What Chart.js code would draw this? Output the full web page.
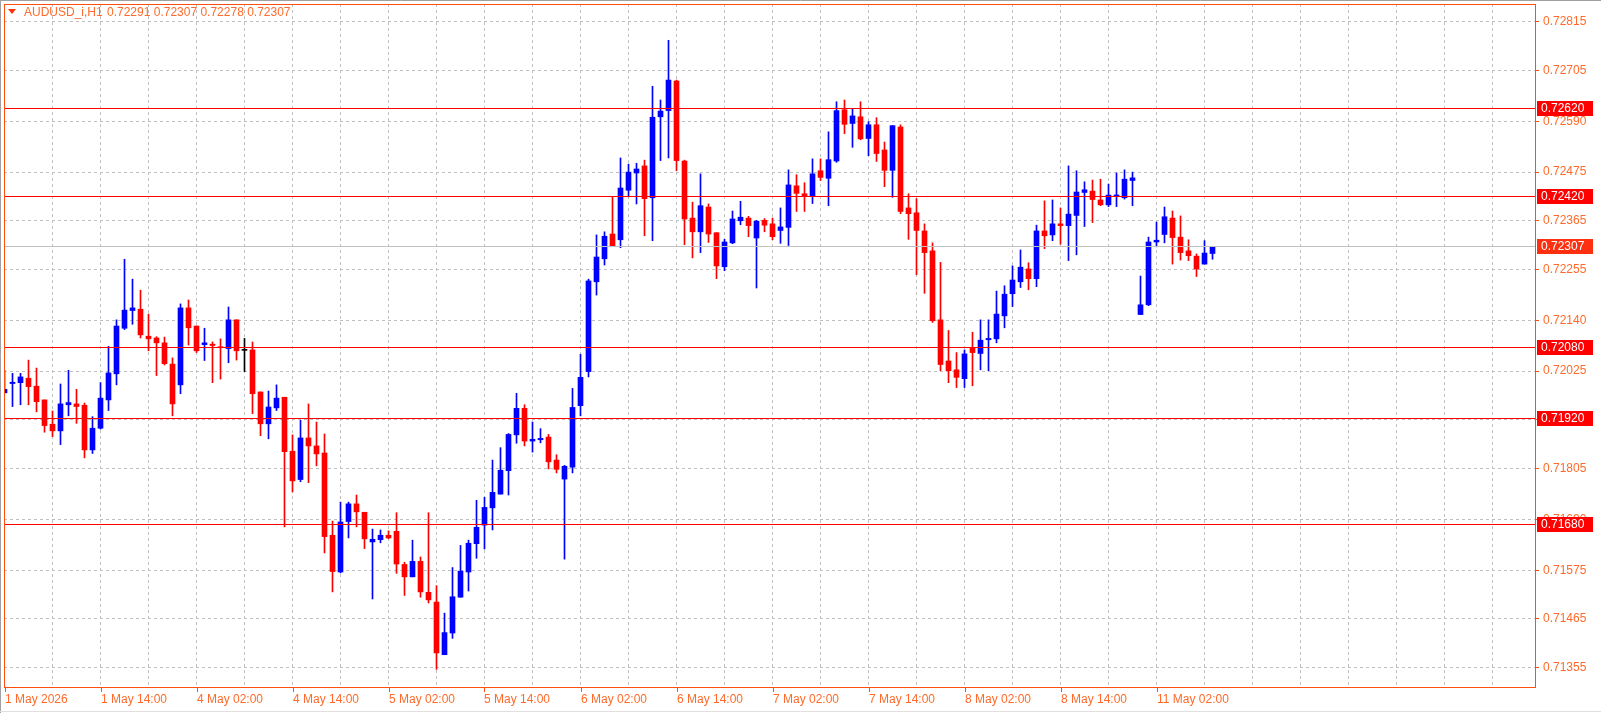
<!DOCTYPE html>
<html>
<head>
<meta charset="utf-8">
<script src="https://cdn.jsdelivr.net/npm/chart.js@4/dist/chart.umd.min.js"></script>
<style>
  html, body { margin: 0; padding: 0; background: #fff; }
  canvas { display: block; }
</style>
</head>
<body>
<canvas id="c" width="1601" height="713"></canvas>
<script>
// AUDUSD_i H1, one candle per hour starting 1 May 02:00
const opens = [
  0.71976,0.71997,0.71999,0.72009,0.71991,0.71960,0.71905,0.71890,0.71949,0.71951,
  0.71948,0.71847,0.71896,0.71960,0.72019,0.72122,0.72162,0.72165,0.72104,0.72100,
  0.72089,0.72041,0.71994,0.72168,0.72127,0.72085,0.72086,0.72080,0.72076,0.72141,
  0.72072,0.72073,0.71978,0.71906,0.71942,0.71966,0.71844,0.71780,0.71874,0.71856,
  0.71840,0.71654,0.71571,0.71685,0.71725,0.71706,0.71639,0.71644,0.71654,0.71663,
  0.71588,0.71560,0.71595,0.71525,0.71503,0.71384,0.71433,0.71514,0.71571,0.71635,
  0.71677,0.71716,0.71747,0.71800,0.71881,0.71941,0.71867,0.71870,0.71876,0.71824,
  0.71781,0.71808,0.71947,0.72024,0.72227,0.72279,0.72335,0.72322,0.72434,0.72473,
  0.72489,0.72417,0.72600,0.72614,0.72681,0.72500,0.72371,0.72340,0.72396,0.72338,
  0.72261,0.72315,0.72365,0.72371,0.72326,0.72366,0.72358,0.72343,0.72350,0.72444,
  0.72426,0.72420,0.72478,0.72461,0.72500,0.72616,0.72585,0.72600,0.72551,0.72582,
  0.72525,0.72479,0.72577,0.72394,0.72383,0.72342,0.72297,0.72141,0.72048,0.72028,
  0.72008,0.72077,0.72065,0.72096,0.72098,0.72150,0.72200,0.72227,0.72256,0.72234,
  0.72342,0.72333,0.72358,0.72354,0.72377,0.72429,0.72432,0.72412,0.72401,0.72421,
  0.72417,0.72456,0.72153,0.72175,0.72317,0.72334,0.72371,0.72328,0.72297,0.72285,
  0.72267,0.72291
];
const highs = [
  0.72027,0.72020,0.72020,0.72050,0.72032,0.71960,0.71935,0.71996,0.72027,0.71984,
  0.71953,0.71922,0.71999,0.72081,0.72141,0.72278,0.72233,0.72208,0.72154,0.72103,
  0.72102,0.72055,0.72177,0.72186,0.72127,0.72122,0.72091,0.72098,0.72170,0.72141,
  0.72099,0.72091,0.71978,0.71980,0.71994,0.71966,0.71881,0.71914,0.71951,0.71910,
  0.71883,0.71686,0.71729,0.71729,0.71745,0.71706,0.71668,0.71666,0.71664,0.71705,
  0.71593,0.71643,0.71605,0.71705,0.71540,0.71478,0.71581,0.71631,0.71643,0.71733,
  0.71740,0.71824,0.71852,0.71884,0.71975,0.71949,0.71910,0.71895,0.71882,0.71836,
  0.71812,0.71986,0.72063,0.72233,0.72333,0.72340,0.72419,0.72507,0.72493,0.72495,
  0.72502,0.72669,0.72638,0.72773,0.72683,0.72502,0.72407,0.72471,0.72403,0.72338,
  0.72323,0.72387,0.72409,0.72375,0.72366,0.72370,0.72371,0.72394,0.72480,0.72469,
  0.72451,0.72505,0.72505,0.72566,0.72634,0.72638,0.72618,0.72634,0.72589,0.72598,
  0.72543,0.72580,0.72582,0.72426,0.72415,0.72358,0.72315,0.72271,0.72117,0.72067,
  0.72073,0.72113,0.72141,0.72141,0.72206,0.72218,0.72263,0.72299,0.72270,0.72355,
  0.72410,0.72412,0.72394,0.72489,0.72478,0.72453,0.72457,0.72459,0.72448,0.72473,
  0.72480,0.72475,0.72240,0.72328,0.72362,0.72396,0.72387,0.72376,0.72322,0.72290,
  0.72320,0.72307
];
const lows = [
  0.71976,0.71945,0.71949,0.71949,0.71933,0.71887,0.71877,0.71859,0.71924,0.71907,
  0.71829,0.71839,0.71894,0.71936,0.71994,0.72119,0.72131,0.72100,0.72071,0.72015,
  0.72039,0.71924,0.71974,0.72084,0.72067,0.72049,0.71999,0.72007,0.72044,0.72050,
  0.72024,0.71929,0.71879,0.71872,0.71936,0.71673,0.71752,0.71775,0.71773,0.71811,
  0.71614,0.71526,0.71569,0.71648,0.71673,0.71624,0.71510,0.71637,0.71646,0.71568,
  0.71518,0.71560,0.71514,0.71501,0.71351,0.71384,0.71421,0.71514,0.71528,0.71602,
  0.71623,0.71666,0.71747,0.71745,0.71862,0.71856,0.71842,0.71863,0.71804,0.71795,
  0.71600,0.71795,0.71924,0.72012,0.72197,0.72265,0.72308,0.72304,0.72419,0.72403,
  0.72331,0.72320,0.72501,0.72507,0.72478,0.72311,0.72281,0.72293,0.72316,0.72234,
  0.72252,0.72313,0.72356,0.72329,0.72213,0.72340,0.72322,0.72314,0.72309,0.72386,
  0.72386,0.72404,0.72456,0.72399,0.72497,0.72562,0.72531,0.72548,0.72512,0.72499,
  0.72442,0.72418,0.72381,0.72323,0.72243,0.72201,0.72135,0.72026,0.71999,0.71988,
  0.71988,0.71992,0.72028,0.72026,0.72089,0.72123,0.72171,0.72214,0.72209,0.72216,
  0.72302,0.72320,0.72312,0.72275,0.72288,0.72352,0.72361,0.72399,0.72397,0.72397,
  0.72414,0.72399,0.72153,0.72173,0.72306,0.72315,0.72267,0.72276,0.72275,0.72239,
  0.72267,0.72278
];
const closes = [
  0.71984,0.72000,0.72012,0.71990,0.71956,0.71902,0.71890,0.71951,0.71954,0.71945,
  0.71847,0.71896,0.71964,0.72021,0.72127,0.72163,0.72168,0.72107,0.72098,0.72089,
  0.72042,0.71951,0.72168,0.72123,0.72071,0.72089,0.72083,0.72078,0.72141,0.72071,
  0.72072,0.71974,0.71906,0.71944,0.71964,0.71843,0.71777,0.71874,0.71856,0.71838,
  0.71651,0.71572,0.71684,0.71725,0.71707,0.71646,0.71645,0.71654,0.71648,0.71589,
  0.71560,0.71595,0.71526,0.71508,0.71388,0.71434,0.71515,0.71573,0.71636,0.71672,
  0.71717,0.71751,0.71801,0.71882,0.71941,0.71867,0.71871,0.71873,0.71820,0.71803,
  0.71810,0.71943,0.72011,0.72229,0.72283,0.72330,0.72308,0.72439,0.72475,0.72482,
  0.72415,0.72599,0.72613,0.72683,0.72501,0.72369,0.72340,0.72399,0.72335,0.72263,
  0.72317,0.72369,0.72373,0.72354,0.72364,0.72355,0.72329,0.72351,0.72446,0.72427,
  0.72420,0.72471,0.72463,0.72503,0.72614,0.72583,0.72602,0.72550,0.72582,0.72517,
  0.72479,0.72580,0.72386,0.72381,0.72343,0.72293,0.72139,0.72040,0.72026,0.72011,
  0.72064,0.72067,0.72095,0.72099,0.72154,0.72199,0.72231,0.72260,0.72234,0.72342,
  0.72331,0.72358,0.72354,0.72380,0.72430,0.72435,0.72413,0.72401,0.72423,0.72422,
  0.72459,0.72462,0.72175,0.72317,0.72321,0.72374,0.72327,0.72293,0.72286,0.72256,
  0.72292,0.72307
];

// one time label every 12 candles
const timeLabels = ['1 May 2026','1 May 14:00','4 May 02:00','4 May 14:00','5 May 02:00',
  '5 May 14:00','6 May 02:00','6 May 14:00','7 May 02:00','7 May 14:00',
  '8 May 02:00','8 May 14:00','11 May 02:00'];
const priceTicks = [0.72815,0.72705,0.72590,0.72475,0.72365,0.72255,0.72140,0.72025,
  0.71915,0.71805,0.71690,0.71575,0.71465,0.71355];
const levels = [0.72620, 0.72420, 0.72080, 0.71920, 0.71680];
const bid = 0.72307;
const header = ['0.72291','0.72307','0.72278','0.72307'];

const ORANGE = '#ff4f0f';
const TXT = '#ff6a2a';
const FONT = '12px "Liberation Sans", Arial, sans-serif';

function candleColor(i) {
  if (closes[i] > opens[i]) return '#0000ff';
  if (closes[i] < opens[i]) return '#ff0000';
  return '#000000';
}

const idx = opens.map((_, i) => i);
const colors = idx.map(candleColor);

const overlay = {
  id: 'overlay',
  afterDraw(chart) {
    const { ctx, chartArea: a } = chart;
    const y = chart.scales.y, x = chart.scales.x;
    ctx.save();
    // bid line
    ctx.strokeStyle = '#c0c0c0';
    ctx.lineWidth = 1;
    let py = Math.round(y.getPixelForValue(bid)) + 0.5;
    ctx.beginPath(); ctx.moveTo(a.left, py); ctx.lineTo(a.right, py); ctx.stroke();
    // levels
    ctx.strokeStyle = '#ff0000';
    levels.forEach(v => {
      const p = Math.round(y.getPixelForValue(v)) + 0.5;
      ctx.beginPath(); ctx.moveTo(a.left, p); ctx.lineTo(a.right, p); ctx.stroke();
    });
    // frame
    ctx.strokeStyle = ORANGE;
    ctx.strokeRect(a.left + 0.5, a.top + 0.5, a.right - a.left, a.bottom - a.top);
    // price boxes
    ctx.font = FONT;
    ctx.textBaseline = 'middle';
    levels.concat([bid]).forEach(v => {
      const p = Math.round(y.getPixelForValue(v));
      ctx.fillStyle = v === bid ? '#ff3010' : '#ff0000';
      ctx.fillRect(a.right + 2, p - 7, 56, 15);
      ctx.fillStyle = '#ffffff';
      ctx.textAlign = 'left';
      ctx.fillText(v.toFixed(5), a.right + 6, p + 1);
    });
    // time labels
    ctx.fillStyle = TXT;
    ctx.strokeStyle = ORANGE;
    ctx.textBaseline = 'alphabetic';
    timeLabels.forEach((t, k) => {
      const px = Math.round(x.getPixelForValue(k * 12)) + 0.5;
      ctx.beginPath(); ctx.moveTo(px, a.bottom); ctx.lineTo(px, a.bottom + 5); ctx.stroke();
      ctx.fillText(t, px - 0.5, a.bottom + 16);
    });
    // header
    ctx.fillStyle = '#ff3010';
    ctx.beginPath(); ctx.moveTo(8, 9); ctx.lineTo(16, 9); ctx.lineTo(12, 14); ctx.fill();
    ctx.fillStyle = TXT;
    ctx.textBaseline = 'middle';
    ctx.fillText('AUDUSD_i,H1', 24, 13);
    ctx.fillText(header.join(' '), 107, 13);
    // window edge
    ctx.strokeStyle = '#a0a0a0';
    ctx.beginPath(); ctx.moveTo(0.5, 0); ctx.lineTo(0.5, 713); ctx.moveTo(0, 0.5); ctx.lineTo(1601, 0.5); ctx.stroke();
    ctx.strokeStyle = '#e0e0e0';
    ctx.beginPath(); ctx.moveTo(0, 711.5); ctx.lineTo(1601, 711.5); ctx.stroke();
    ctx.restore();
  }
};

new Chart(document.getElementById('c'), {
  type: 'bar',
  data: {
    datasets: [
      {
        label: 'wick',
        data: idx.map(i => ({ x: i, y: [lows[i], highs[i]] })),
        backgroundColor: colors,
        barThickness: 1,
        grouped: false,
        minBarLength: 1,
        order: 2,
      },
      {
        label: 'body',
        data: idx.map(i => ({ x: i, y: [opens[i], closes[i]] })),
        backgroundColor: colors,
        barThickness: 5,
        grouped: false,
        minBarLength: 1,
        order: 1,
      },
    ],
  },
  options: {
    responsive: false,
    devicePixelRatio: 1,
    animation: false,
    layout: { padding: { left: 4, top: 4, right: 0, bottom: 0 } },
    plugins: { legend: { display: false }, tooltip: { enabled: false } },
    scales: {
      x: {
        type: 'linear',
        offset: false,
        min: -0.0625,
        max: 191.3125,
        afterBuildTicks: s => { s.ticks = []; for (let v = 6; v <= 186; v += 6) s.ticks.push({ value: v }); },
        afterFit: s => { s.height = 26; s.paddingLeft = 0; s.paddingRight = 0; },
        ticks: { display: false },
        grid: { color: '#c0c0c0', drawTicks: false, offset: false },
        border: { display: false, dash: [3, 3] },
      },
      y: {
        position: 'right',
        min: 0.71311,
        max: 0.72855,
        afterBuildTicks: s => { s.ticks = priceTicks.map(v => ({ value: v })); },
        afterFit: s => { s.width = 66; s.paddingTop = 0; s.paddingBottom = 0; },
        ticks: { color: TXT, font: { family: '"Liberation Sans", Arial, sans-serif', size: 12 }, padding: 4, callback: v => v.toFixed(5) },
        grid: { color: '#c0c0c0', tickColor: ORANGE, tickLength: 4, drawOnChartArea: true },
        border: { display: false, dash: [3, 3] },
      },
    },
  },
  plugins: [overlay],
});
</script>
</body>
</html>
